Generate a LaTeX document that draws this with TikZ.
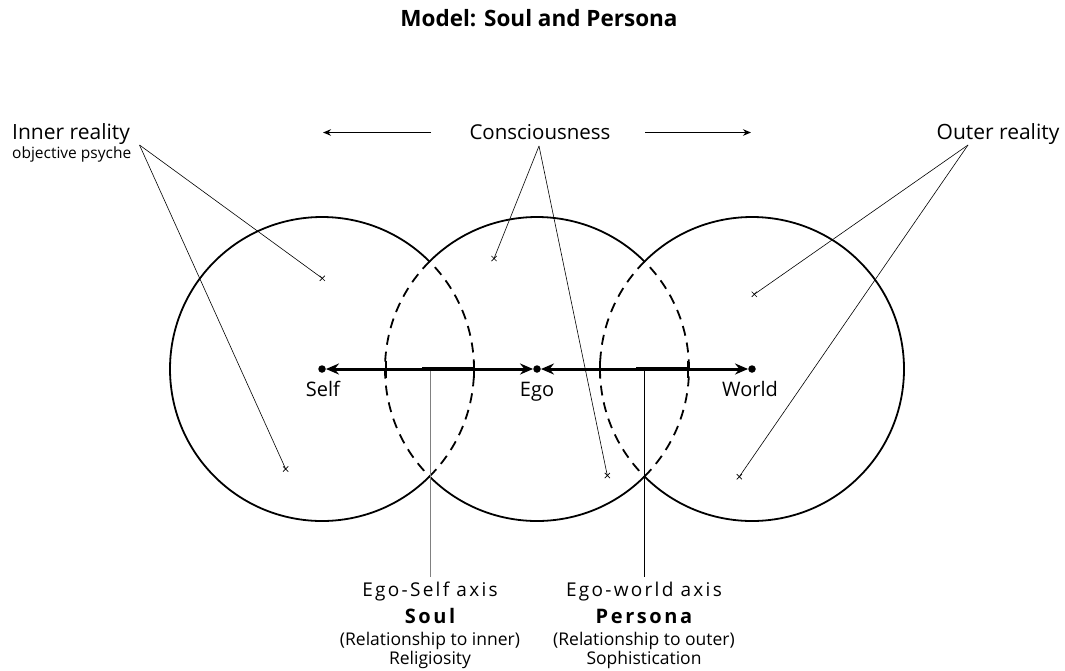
\documentclass[tikz,border=0pt]{standalone}
\usepackage{fontspec}
\setmainfont{Open Sans}
\usetikzlibrary{arrows.meta,shapes.misc}
\tikzset{
  circ/.style={line width=1.8pt},
  dsh/.style={line width=1.8pt, dash pattern=on 10pt off 7pt},
  thickpart/.style={line width=4.5pt},
  dot/.style={circle, fill=black, inner sep=0pt, minimum size=7.5pt},
  tick/.style={line width=2pt},
  pointer/.style={line width=0.6pt},
  xmark/.style={cross out, draw, line width=0.7pt, inner sep=0pt, minimum size=4.5pt},
  lbl/.style={font=\fontsize{20}{24}\selectfont, inner sep=0pt},
  small/.style={font=\fontsize{17.5}{20}\selectfont, inner sep=0pt},
  axlbl/.style={font=\addfontfeatures{LetterSpace=12}\fontsize{19}{22}\selectfont, inner sep=0pt},
  bold/.style={font=\bfseries\addfontfeatures{LetterSpace=13}\fontsize{20}{24}\selectfont, inner sep=0pt},
  bigarrow/.style={line width=3pt, {Stealth[length=13pt,width=11pt]}-{Stealth[length=13pt,width=11pt]}},
  toparrow/.style={line width=1.4pt, -{Stealth[length=8pt,width=6.5pt]}},
}
\begin{document}
\begin{tikzpicture}[x=1pt,y=-1pt]
\useasboundingbox (0,0) rectangle (1065,670);
% title
\node[font=\bfseries\fontsize{22.5}{26}\selectfont, inner sep=0pt, anchor=base] (title) at (539,26.5) {Model: Soul and Persona};

% circle centres
\coordinate (C1) at (322,369);
\coordinate (C2) at (537,369);
\coordinate (C3) at (752,369);
\def\R{152pt}
% left circle
\draw[circ] (C1) ++(45:\R) arc[start angle=45, end angle=315, radius=\R];
\draw[dsh] (C1) ++(-45:\R) arc[start angle=-45, end angle=45, radius=\R];
% middle circle
\draw[circ] (C2) ++(45:\R) arc[start angle=45, end angle=135, radius=\R];
\draw[circ] (C2) ++(225:\R) arc[start angle=225, end angle=315, radius=\R];
\draw[dsh] (C2) ++(135:\R) arc[start angle=135, end angle=225, radius=\R];
\draw[dsh] (C2) ++(-45:\R) arc[start angle=-45, end angle=45, radius=\R];
% right circle
\draw[circ] (C3) ++(135:\R) arc[start angle=135, end angle=-135, radius=\R];
\draw[dsh] (C3) ++(135:\R) arc[start angle=135, end angle=225, radius=\R];

% vertical axis lines
\coordinate (v1) at (430,369);
\coordinate (v1b) at (430,577);
\coordinate (v2) at (644,369);
\coordinate (v2b) at (644,577);
\draw[line width=1pt, gray] (v1) -- (v1b);
\draw[line width=0.9pt] (v2) -- (v2b);

% axis
\node[dot] (self) at (322,369) {};
\node[dot] (ego) at (537,369) {};
\node[dot] (world) at (752,369) {};
\draw[bigarrow] (self) -- (ego);
\draw[bigarrow] (ego) -- (world);
\coordinate (t1a) at (422,369); \coordinate (t1b) at (474,369);
\coordinate (t2a) at (636,369); \coordinate (t2b) at (688,369);
\draw[thickpart] (t1a) -- (t1b);
\draw[thickpart] (t2a) -- (t2b);
% ticks
\foreach \x in {386,474,600,688}{
  \draw[tick] (\x,360.5) -- (\x,377.5);
}
\node[lbl, anchor=base] (selfl) at (323,396.5) {Self};
\node[lbl, anchor=base] (egol) at (537,396.5) {Ego};
\node[lbl, anchor=base west] (worldl) at (722,396.5) {World};

% top labels
\node[lbl, anchor=base west, font=\fontsize{21}{24}\selectfont] (inner) at (12,139.5) {Inner reality};
\node[anchor=base west, inner sep=0pt, font=\fontsize{15.5}{18}\selectfont] (obj) at (12,158.5) {objective psyche};
\node[lbl, anchor=base, font=\fontsize{20.5}{24}\selectfont] (cons) at (540,139.5) {Consciousness};
\node[lbl, anchor=base, font=\fontsize{21}{24}\selectfont] (outer) at (998,139.5) {Outer reality};
\coordinate (la) at (431,132.5); \coordinate (lb) at (323,132.5);
\coordinate (ra) at (645,132.5); \coordinate (rb) at (751,132.5);
\draw[toparrow] (la) -- (lb);
\draw[toparrow] (ra) -- (rb);

% pointers
\coordinate (pI) at (139.5,145);
\coordinate (pC) at (539,146);
\coordinate (pO) at (968,145);
\node[xmark] (m1) at (322.3,278.3) {};
\node[xmark] (m2) at (285.7,469) {};
\node[xmark] (m3) at (494,258.5) {};
\node[xmark] (m4) at (607.3,475.5) {};
\node[xmark] (m5) at (754.3,294.3) {};
\node[xmark] (m6) at (739.3,476.7) {};
\draw[pointer] (pI) -- (m1.center);
\draw[pointer] (pI) -- (m2.center);
\draw[pointer] (pC) -- (m3.center);
\draw[pointer] (pC) -- (m4.center);
\draw[pointer] (pO) -- (m5.center);
\draw[pointer] (pO) -- (m6.center);

% bottom labels
\node[axlbl, anchor=base] (esa) at (430,596.5) {Ego-Self axis};
\node[bold, anchor=base] (soul) at (430,623) {Soul};
\node[small, anchor=base] (rin) at (430,645.5) {(Relationship to inner)};
\node[small, anchor=base] (rel) at (430,664.5) {Religiosity};
\node[axlbl, anchor=base] (ewa) at (644,596.5) {Ego-world axis};
\node[bold, anchor=base] (pers) at (644,623) {Persona};
\node[small, anchor=base] (rout) at (644,645.5) {(Relationship to outer)};
\node[small, anchor=base] (soph) at (644,664.5) {Sophistication};
\end{tikzpicture}
\end{document}
